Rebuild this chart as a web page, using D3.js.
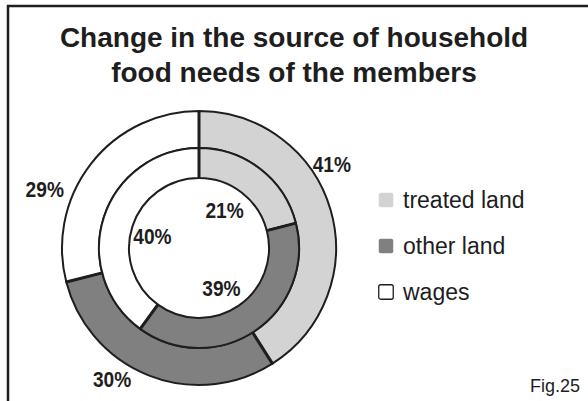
<!DOCTYPE html>
<html><head><meta charset="utf-8">
<script src="https://cdn.jsdelivr.net/npm/d3@7"></script>
<style>html,body{margin:0;padding:0;background:#fff;}svg{display:block;}</style>
</head><body>
<svg id="chart" width="588" height="401"></svg>
<script>
const categories = ["treated land", "other land", "wages"];
const outerValues = [41, 30, 29];
const innerValues = [21, 39, 40];
const colors = ["#d3d3d3", "#808080", "#ffffff"];
const titleLines = ["Change in the source of household", "food needs of the members"];
const figLabel = "Fig.25";

// layout
const W = 588, H = 401;
const cx = 199, cy = 248;
const rOuter = 137, rMid = 100, rInner = 70;
const outerLabelAdj = [{da: -16, r: 157}, {da: 12, r: 157}, {da: -17, r: 165}];
const innerLabelAdj = [{da: -4, r: 46}, {da: 5, r: 46}, {da: -4, r: 48}];
const font = "Liberation Sans, Arial, Helvetica, sans-serif";
const ink = "#1e1e1e";

const svg = d3.select("#chart");
svg.append("rect").attr("x", 8).attr("y", 6).attr("width", 620).attr("height", 420)
  .attr("fill", "#fff").attr("stroke", ink).attr("stroke-width", 2.5);

svg.append("g").selectAll("text").data(titleLines).join("text")
  .attr("x", 294).attr("y", (d, i) => 47 + i * 35)
  .attr("text-anchor", "middle").attr("font-family", font).attr("font-weight", "bold")
  .attr("font-size", 28).attr("fill", ink).text(d => d);

const pie = d3.pie().sort(null).value(d => d);
const outerArcs = pie(outerValues);
const innerArcs = pie(innerValues);
const arcOuter = d3.arc().innerRadius(rMid).outerRadius(rOuter);
const arcInner = d3.arc().innerRadius(rInner).outerRadius(rMid);

const g = svg.append("g").attr("transform", `translate(${cx},${cy})`);
g.append("g").selectAll("path").data(outerArcs).join("path")
  .attr("d", arcOuter).attr("fill", (d, i) => colors[i]).attr("stroke", ink).attr("stroke-width", 2);
g.append("g").selectAll("path").data(innerArcs).join("path")
  .attr("d", arcInner).attr("fill", (d, i) => colors[i]).attr("stroke", ink).attr("stroke-width", 2);

// radial boundaries (thicker)
function radial(arcs, r0, r1) {
  return arcs.map(a => a.startAngle).map(a => ({a, r0, r1}));
}
const bounds = radial(outerArcs, rMid, rOuter).concat(radial(innerArcs, rInner, rMid));
g.append("g").selectAll("line").data(bounds).join("line")
  .attr("x1", d => Math.sin(d.a) * d.r0).attr("y1", d => -Math.cos(d.a) * d.r0)
  .attr("x2", d => Math.sin(d.a) * d.r1).attr("y2", d => -Math.cos(d.a) * d.r1)
  .attr("stroke", ink).attr("stroke-width", 3);

function labelPos(d, adj) {
  const mid = (d.startAngle + d.endAngle) / 2 + adj.da * Math.PI / 180;
  return [Math.sin(mid) * adj.r, -Math.cos(mid) * adj.r];
}
function addLabels(arcs, adjs) {
  g.append("g").selectAll("text").data(arcs).join("text")
    .attr("transform", (d, i) => `translate(${labelPos(d, adjs[i])}) scale(0.87,1)`)
    .attr("text-anchor", "middle").attr("dy", "0.36em")
    .attr("font-family", font).attr("font-weight", "bold").attr("font-size", 22).attr("fill", ink)
    .text(d => d.data + "%");
}
addLabels(outerArcs, outerLabelAdj);
addLabels(innerArcs, innerLabelAdj);

// legend
const ly = d3.scalePoint().domain(categories).range([200, 292]);
const leg = svg.append("g").selectAll("g").data(categories).join("g")
  .attr("transform", d => `translate(378,${ly(d)})`);
leg.append("rect").attr("x", 0.75).attr("y", -7.25).attr("width", 14.5).attr("height", 14.5)
  .attr("rx", 2).attr("fill", (d, i) => colors[i])
  .attr("stroke", (d, i) => colors[i] === "#ffffff" ? ink : "none").attr("stroke-width", 1.3);
leg.append("text").attr("x", 25).attr("y", 8)
  .attr("font-family", font).attr("font-size", 23).attr("fill", ink).text(d => d);

svg.append("text").attr("x", 530).attr("y", 392).attr("font-family", font)
  .attr("font-size", 18).attr("fill", ink).text(figLabel);
</script>
</body></html>
